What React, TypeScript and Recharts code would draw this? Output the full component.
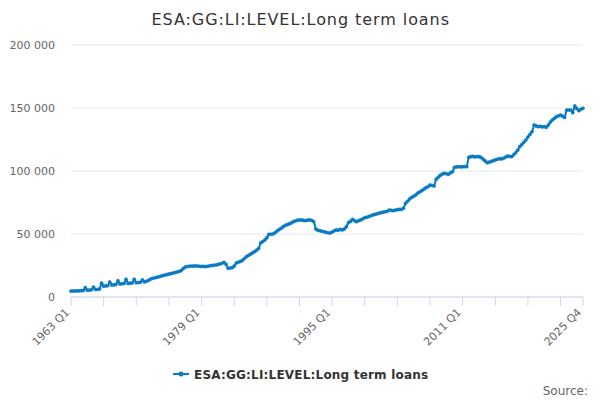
import React from "react";
import { LineChart, Line, XAxis, YAxis, CartesianGrid, Legend } from "recharts";

const TITLE = "ESA:GG:LI:LEVEL:Long term loans";
const SERIES_NAME = "ESA:GG:LI:LEVEL:Long term loans";
const START_YEAR = 1963;
const QUARTERS = ["Q1", "Q2", "Q3", "Q4"];

// quarterly values, one row per year (1963 .. 2025)
const values: number[] = [
  4700, 4750, 4800, 4850, // 1963
  4900, 5000, 5100, 7400, // 1964
  5400, 5500, 5700, 7900, // 1965
  6000, 6100, 6300, 11000, // 1966
  8600, 8800, 9000, 11900, // 1967
  9500, 9700, 9900, 12900, // 1968
  10300, 10500, 10700, 14000, // 1969
  10800, 11000, 11100, 14000, // 1970
  11300, 11500, 11700, 13600, // 1971
  12000, 12500, 13200, 14200, // 1972
  14800, 15200, 15600, 16000, // 1973
  16500, 17000, 17400, 17800, // 1974
  18200, 18600, 19000, 19400, // 1975
  19800, 20300, 21000, 22500, // 1976
  23800, 24200, 24400, 24600, // 1977
  24500, 24700, 24600, 24400, // 1978
  24200, 24300, 24100, 24400, // 1979
  24800, 25000, 25200, 25400, // 1980
  25800, 26200, 26800, 27500, // 1981
  26000, 22800, 23000, 23300, // 1982
  24500, 27000, 27600, 28200, // 1983
  29000, 30500, 32000, 33000, // 1984
  34000, 35000, 36000, 37200, // 1985
  38600, 43000, 44000, 45200, // 1986
  47000, 49700, 49800, 50000, // 1987
  51000, 52400, 53500, 54500, // 1988
  55800, 56800, 57500, 58000, // 1989
  58800, 59800, 60300, 61000, // 1990
  61000, 61200, 60800, 60600, // 1991
  61000, 61200, 60800, 59800, // 1992
  54000, 53000, 52600, 52200, // 1993
  51800, 51400, 51000, 50800, // 1994
  51500, 52500, 53200, 53000, // 1995
  53700, 53200, 54000, 55800, // 1996
  59000, 60000, 61700, 60500, // 1997
  59800, 60500, 61200, 62000, // 1998
  62900, 63300, 63800, 64500, // 1999
  65100, 65500, 66000, 66500, // 2000
  66900, 67300, 67600, 68000, // 2001
  69000, 68800, 68500, 69000, // 2002
  69300, 69500, 69600, 70500, // 2003
  74400, 76000, 77800, 79000, // 2004
  80000, 81000, 82500, 83500, // 2005
  84400, 85500, 86800, 87500, // 2006
  88900, 88500, 88100, 93400, // 2007
  95000, 96500, 97500, 98200, // 2008
  97800, 97400, 98500, 99400, // 2009
  102900, 103200, 103400, 103200, // 2010
  103400, 103500, 103400, 110900, // 2011
  111400, 111600, 111200, 111400, // 2012
  111400, 110800, 109500, 108000, // 2013
  106600, 107000, 107600, 108200, // 2014
  108800, 109300, 109800, 109600, // 2015
  110100, 111000, 111900, 111600, // 2016
  111400, 112800, 114500, 116500, // 2017
  119300, 121000, 122800, 124600, // 2018
  127000, 129000, 131200, 136500, // 2019
  135800, 135200, 135500, 135000, // 2020
  135200, 134700, 136500, 138900, // 2021
  140500, 141800, 143100, 143800, // 2022
  144400, 143500, 142600, 148400, // 2023
  148400, 148400, 146300, 151600, // 2024
  149500, 147900, 149000, 149800, // 2025
];

const yTicks = [0, 50000, 100000, 150000, 200000];
const xTickMarks = [
  "1963 Q1", "1967 Q1", "1971 Q1", "1975 Q1", "1979 Q1", "1983 Q1", "1987 Q1",
  "1991 Q1", "1995 Q1", "1999 Q1", "2003 Q1", "2007 Q1", "2011 Q1", "2015 Q1",
  "2019 Q1", "2023 Q1", "2025 Q4",
];
const xTickLabels = ["1963 Q1", "1979 Q1", "1995 Q1", "2011 Q1", "2025 Q4"];

const data = values.map((v, i) => ({
  period: `${START_YEAR + Math.floor(i / 4)} ${QUARTERS[i % 4]}`,
  value: v,
}));

const COLOR = "#0a7bc2";
const FONT = "'DejaVu Sans', sans-serif";

const fmt = (v: number) => String(v).replace(/\B(?=(\d{3})+(?!\d))/g, " ");

const XTick = (props: any) => {
  const { x, y, payload } = props;
  if (!xTickLabels.includes(payload.value)) return null;
  const ax = x - 1;
  const ay = y + 7;
  return (
    <text
      x={ax}
      y={ay}
      textAnchor="end"
      transform={`rotate(-45 ${ax} ${ay})`}
      fontSize={11}
      fill="#666666"
      fontFamily={FONT}
    >
      {payload.value}
    </text>
  );
};

const YTick = (props: any) => {
  const { y, payload } = props;
  return (
    <text x={55} y={y + 4} textAnchor="end" fontSize={11} fill="#666666" fontFamily={FONT}>
      {fmt(payload.value)}
    </text>
  );
};

const LegendContent = () => (
  <svg width={600} height={24} style={{ display: "block" }}>
    <line x1={173} y1={11} x2={189} y2={11} stroke={COLOR} strokeWidth={2} />
    <circle cx={181} cy={11} r={2.5} fill={COLOR} />
    <text
      x={194}
      y={15.5}
      fontSize={12}
      fontWeight="bold"
      fill="#333333"
      fontFamily={FONT}
      letterSpacing={0.2}
    >
      {SERIES_NAME}
    </text>
  </svg>
);

export default function App() {
  return (
    <div style={{ position: "absolute", left: 0, top: 0, width: 600, height: 400, background: "#fff" }}>
      <LineChart
        width={600}
        height={400}
        data={data}
        margin={{ top: 45, right: 17, bottom: 43, left: 0 }}
      >
        <CartesianGrid horizontal vertical={false} stroke="#e6e6e6" />
        <XAxis
          dataKey="period"
          ticks={xTickMarks}
          interval={0}
          height={60}
          tick={<XTick />}
          tickSize={9}
          tickMargin={0}
          tickLine={{ stroke: "#ccd6eb" }}
          axisLine={{ stroke: "#ccd6eb" }}
        />
        <YAxis
          width={71}
          domain={[0, 200000]}
          ticks={yTicks}
          tick={<YTick />}
          tickLine={false}
          axisLine={false}
        />
        <Legend
          layout="horizontal"
          verticalAlign="middle"
          align="center"
          wrapperStyle={{ top: 363, left: 0, width: 600 }}
          content={<LegendContent />}
        />
        <Line
          type="linear"
          dataKey="value"
          name={SERIES_NAME}
          stroke={COLOR}
          strokeWidth={2}
          dot={{ r: 1.6, fill: COLOR, stroke: COLOR, strokeWidth: 0.5 }}
          isAnimationActive={false}
        />
      </LineChart>
      <svg
        width={600}
        height={400}
        style={{ position: "absolute", left: 0, top: 0, pointerEvents: "none" }}
      >
        <text
          x={151.5}
          y={25}
          textAnchor="start"
          fontSize={16}
          fill="#333333"
          fontFamily={FONT}
          textLength={297.5}
          lengthAdjust="spacing"
        >
          {TITLE}
        </text>
        <text x={588} y={395} textAnchor="end" fontSize={12} fill="#666666" fontFamily={FONT}>
          Source:
        </text>
      </svg>
    </div>
  );
}
